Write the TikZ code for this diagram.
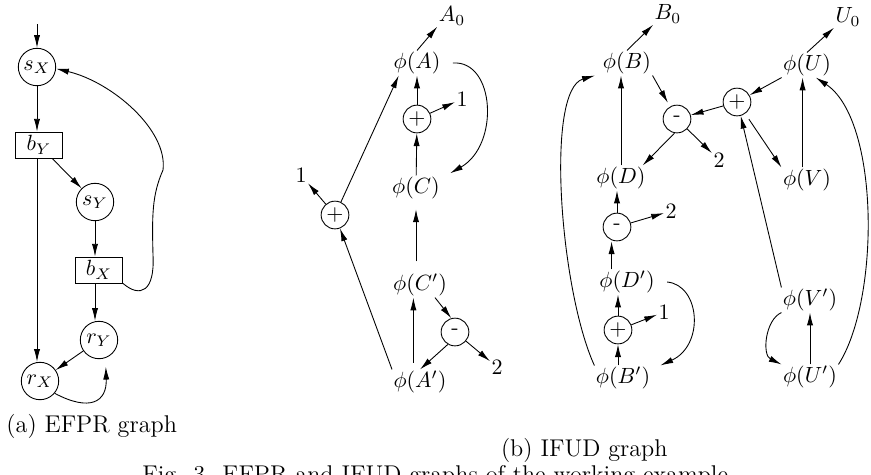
\documentclass[tikz,border=0pt]{standalone}
\usetikzlibrary{arrows.meta}
\begin{document}
\begin{tikzpicture}[x=0.4545pt,y=-0.4545pt,
  arr/.style={-{Latex[length=5.8pt,width=2.8pt]}, line width=0.4pt},
  lbl/.style={inner sep=0.5pt},
  state/.style={circle,draw,line width=0.4pt,inner sep=0pt,minimum size=17pt},
  blk/.style={rectangle,draw,line width=0.4pt,inner sep=0pt,minimum width=21.4pt,minimum height=11.8pt},
  op/.style={circle,draw,line width=0.4pt,inner sep=0pt,minimum size=12.6pt},
  captext/.style={inner sep=0pt,font=\fontsize{11}{13}\selectfont}]
\clip (0,0) rectangle (871,474);

% ---- (a) EFPR graph ----
\coordinate (in) at (37,24);
\node[state] (sX) at (37,67) {$s_X$};
\node[blk] (bY) at (39,145) {$b_Y$};
\node[state] (sY) at (95,202) {$s_Y$};
\node[blk] (bX) at (99,270) {$b_X$};
\node[state] (rY) at (99,340) {$r_Y$};
\node[state] (rX) at (40,381) {$r_X$};

\draw[arr] (in) -- (sX);
\draw[arr] (sX) -- (sX |- bY.north);
\draw[arr] (bY.south -| sX) -- (rX.north -| sX);
\draw[arr] (bY) -- (sY);
\draw[arr] (sY) -- (sY |- bX.north);
\draw[arr] (bX.south -| sY) -- (sY |- rY.north);
\draw[arr] (rY) -- (rX);
\draw[arr, shorten >=4pt] (rX.-40) .. controls (90,412) and (107,402) .. (rY.-70);
\draw[arr] (bX.south east) .. controls (140,298) and (155,292) .. (153,255)
  .. controls (152,215) and (152,195) .. (163,170)
  .. controls (168,130) and (112,82) .. (sX.-5);

% ---- (b) IFUD graph: A, C ----
\node[lbl] (A0) at (452,16) {$A_0$};
\node[lbl] (phiA) at (417,63) {$\phi(A)$};
\node[op] (pA) at (417,119) {$+$};
\node[lbl] (oneA) at (462,99) {$1$};
\node[lbl] (phiC) at (416,188) {$\phi(C)$};
\node[op] (pL) at (335,215) {$+$};
\node[lbl] (oneL) at (301,175) {$1$};
\node[lbl] (phiCp) at (420,285) {$\phi(C')$};
\node[op] (mA) at (455,332) {-};
\node[lbl] (twoA) at (497,367) {$2$};
\node[lbl] (phiAp) at (420,382) {$\phi(A')$};

\draw[arr] (phiA.north) -- (A0.south west);
\draw[arr] (pA) -- (phiA);
\draw[arr] (pA) -- (oneA);
\draw[arr] (phiC) -- (pA);
\draw[arr] ([xshift=5pt]phiA.east) .. controls (495,60) and (500,145) .. ([xshift=4pt,yshift=1pt]phiC.north east);
\draw[arr] (pL) -- (oneL);
\draw[arr] (pL) -- ([xshift=3pt]phiA.south west);
\draw[arr] (phiAp.north west) -- (pL);
\draw[arr, shorten <=5pt, shorten >=4pt] (phiCp.north -| phiC) -- (phiC.south);
\draw[arr, shorten <=3pt] ([xshift=-3pt]phiAp.north) -- ([xshift=-3pt]phiCp.south);
\draw[arr] (phiCp.-40) -- (mA.105);
\draw[arr] (mA.-120) -- (phiAp.north);
\draw[arr] (mA) -- (twoA);

% ---- (b) IFUD graph: B, D ----
\node[lbl] (B0) at (668,14) {$B_0$};
\node[lbl] (phiB) at (627,63) {$\phi(B)$};
\node[op] (mB) at (677,119) {-};
\node[op] (pU) at (737,102) {$+$};
\node[lbl] (twoB) at (719,160) {$2$};
\node[lbl] (phiD) at (621,178) {$\phi(D)$};
\node[op] (mD) at (617,227) {-};
\node[lbl] (twoD) at (671,211) {$2$};
\node[lbl] (phiDp) at (627,282) {$\phi(D')$};
\node[op] (pB) at (618,330) {$+$};
\node[lbl] (oneB) at (664,312) {$1$};
\node[lbl] (phiBp) at (623,378) {$\phi(B')$};

\draw[arr] (phiB.north) -- (B0.south west);
\draw[arr, shorten >=2pt] (phiB.south east) -- (mB);
\draw[arr] (pU) -- (mB);
\draw[arr] (mB) -- (twoB);
\draw[arr] (mB.-100) -- ([xshift=-2pt]phiD.north east);
\draw[arr] (phiD.north) -- (phiD.north |- phiB.south);
\draw[arr] (mD) -- (mD |- phiD.south);
\draw[arr] (mD) -- (twoD);
\draw[arr] ([xshift=-7pt]phiDp.north) -- ([xshift=-7pt]phiDp.north |- mD.south);
\draw[arr] (pB) -- (pB |- phiDp.south);
\draw[arr] (pB) -- (oneB);
\draw[arr] (phiBp.north -| pB) -- (pB);
\draw[arr] ([xshift=5pt]phiDp.east) .. controls (700,285) and (705,345) .. ([xshift=4pt]phiBp.north east);
\draw[arr] (phiBp.north west) .. controls (560,290) and (545,90) .. ([xshift=-3pt]phiB.south west);

% ---- (b) IFUD graph: U, V ----
\node[lbl] (U0) at (848,17) {$U_0$};
\node[lbl] (phiU) at (807,65) {$\phi(U)$};
\node[lbl] (phiV) at (807,180) {$\phi(V)$};
\node[lbl] (phiVp) at (810,300) {$\phi(V')$};
\node[lbl] (phiUp) at (810,377) {$\phi(U')$};

\draw[arr] (phiU.north) -- (U0.south west);
\draw[arr] (phiU.south west) -- (pU);
\draw[arr, shorten <=3pt] (pU.-55) -- (phiV.north west);
\draw[arr] ([xshift=-2pt]phiV.north) -- ([xshift=-2pt]phiU.south);
\draw[arr] (phiVp.north west) -- (pU.-75);
\draw[arr] (phiUp.north) -- (phiVp.south);
\draw[arr] (phiVp.south west) .. controls (765,320) and (762,355) .. (phiUp.north west);
\draw[arr] (phiUp.north east) .. controls (880,300) and (880,120) .. (phiU.-55);

% ---- captions ----
\node[captext, anchor=west] (capA) at (6,426) {(a) EFPR graph};
\node[captext, anchor=east] (capB) at (668,450) {(b) IFUD graph};
\node[captext, anchor=north west] (capF) at (142,465) {Fig. 3. EFPR and IFUD graphs of the working example};
\end{tikzpicture}
\end{document}
